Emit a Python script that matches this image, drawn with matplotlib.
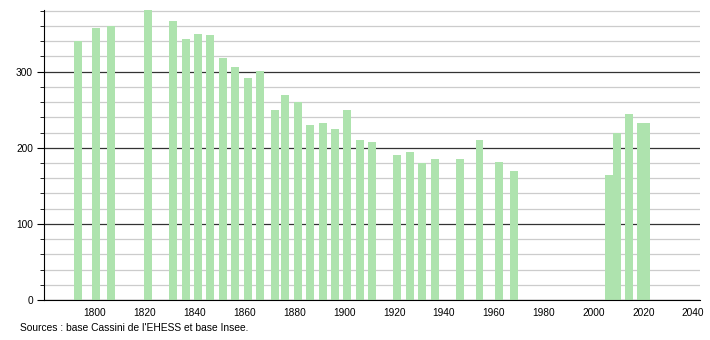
import numpy as np
import matplotlib
matplotlib.use('Agg')
import matplotlib.pyplot as plt
from matplotlib.ticker import MultipleLocator

plt.rcParams['font.family'] = ['Liberation Sans', 'DejaVu Sans']

years = [1793, 1800, 1806, 1821, 1831, 1836, 1841, 1846, 1851, 1856,
         1861, 1866, 1872, 1876, 1881, 1886, 1891, 1896, 1901, 1906,
         1911, 1921, 1926, 1931, 1936, 1946, 1954, 1962, 1968,
         2006, 2009, 2014, 2019, 2021]
population = [340, 357, 360, 385, 366, 343, 350, 348, 318, 306,
              292, 301, 250, 269, 260, 230, 232, 225, 250, 210,
              207, 191, 194, 180, 185, 185, 210, 181, 169,
              164, 219, 245, 233, 233]
source = "Sources : base Cassini de l'EHESS et base Insee."

fig = plt.figure(figsize=(7.1, 3.4), dpi=100)
ax = fig.add_axes([44 / 710, 40 / 340, 656 / 710, 290 / 340])

ax.bar(np.array(years) + 0.3, population, width=3.2, color='#aee3ae', zorder=2)

ax.set_xlim(1779.5, 2042.8)
ax.set_ylim(0, 381)
ax.yaxis.set_major_locator(MultipleLocator(100))
ax.yaxis.set_minor_locator(MultipleLocator(20))
ax.set_xticks(range(1800, 2041, 20))

ax.grid(which='minor', axis='y', color='#cccccc', linewidth=0.9, zorder=1)
ax.grid(which='major', axis='y', color='#333333', linewidth=0.9, zorder=1)

for s in ['top', 'right']:
    ax.spines[s].set_visible(False)
ax.tick_params(axis='x', length=0, labelsize=7.3, pad=6)
ax.tick_params(axis='y', which='major', length=5, labelsize=7.3, pad=3)
ax.tick_params(axis='y', which='minor', length=3)

fig.text(20 / 710, 12 / 340, source, fontsize=7.4, ha='left', va='center')

fig.savefig('out.png', dpi=100)
